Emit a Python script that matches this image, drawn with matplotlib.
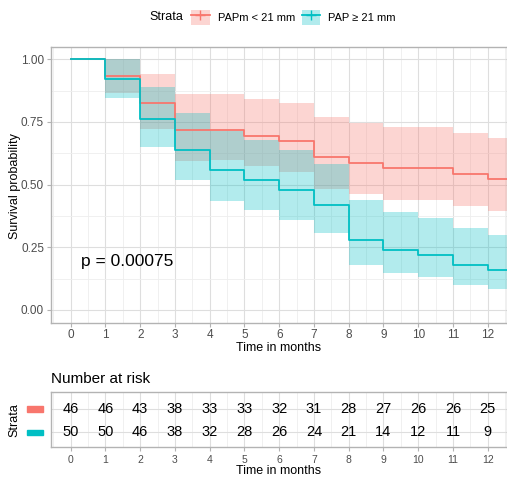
import matplotlib
matplotlib.use('Agg')
from matplotlib import pyplot as plt
from matplotlib.lines import Line2D
from matplotlib.patches import Patch, Rectangle
from matplotlib.ticker import MultipleLocator, FormatStrFormatter
import numpy as np

plt.rcParams['font.family'] = ['Liberation Sans', 'DejaVu Sans']

# data
months = [0, 1, 2, 3, 4, 5, 6, 7, 8, 9, 10, 11, 12]
labels = ['PAPm < 21 mm', 'PAP \u2265 21 mm']
colors = ['#F8766D', '#00BFC4']

surv_low = [1.0, 0.935, 0.826, 0.717, 0.717, 0.696, 0.674, 0.609, 0.587, 0.565, 0.565, 0.543, 0.522]
upper_low = [1.0, 1.0, 0.943, 0.861, 0.861, 0.842, 0.824, 0.768, 0.747, 0.729, 0.729, 0.707, 0.686]
lower_low = [1.0, 0.864, 0.722, 0.596, 0.597, 0.574, 0.551, 0.483, 0.461, 0.439, 0.440, 0.415, 0.395]

surv_high = [1.0, 0.92, 0.76, 0.64, 0.56, 0.52, 0.48, 0.42, 0.28, 0.24, 0.22, 0.18, 0.16]
upper_high = [1.0, 1.0, 0.888, 0.786, 0.716, 0.678, 0.638, 0.582, 0.437, 0.392, 0.368, 0.327, 0.300]
lower_high = [1.0, 0.847, 0.651, 0.520, 0.436, 0.399, 0.359, 0.306, 0.179, 0.149, 0.130, 0.098, 0.085]

risk_low = [46, 46, 43, 38, 33, 33, 32, 31, 28, 27, 26, 26, 25]
risk_high = [50, 50, 46, 38, 32, 28, 26, 24, 21, 14, 12, 11, 9]

p_text = 'p = 0.00075'

W, H = 507, 478
grid_major = '#DEDEDE'
grid_minor = '#EEEEEE'
border = '#B3B3B3'
tick_col = '#4D4D4D'

fig = plt.figure(figsize=(W / 100, H / 100), dpi=100)

# ---- survival curves ----
ax = fig.add_axes([51 / W, 1 - 322.5 / H, 456 / W, 275.7 / H])
t = months + [13]
curves = [(surv_low, upper_low, lower_low), (surv_high, upper_high, lower_high)]
for (s, up, lo), c in zip(curves, colors):
    ax.fill_between(t, lo + lo[-1:], up + up[-1:], step='post',
                    color=c, alpha=0.3, linewidth=0, zorder=2)
    ax.step(t, s + s[-1:], where='post', color=c, lw=1.3, zorder=3)

ax.set_xlim(-0.567, 12.555)
ax.set_ylim(-0.05, 1.05)
ax.xaxis.set_major_locator(MultipleLocator(1))
ax.xaxis.set_minor_locator(MultipleLocator(0.5))
ax.yaxis.set_major_locator(MultipleLocator(0.25))
ax.yaxis.set_minor_locator(MultipleLocator(0.125))
ax.yaxis.set_major_formatter(FormatStrFormatter('%.2f'))
ax.grid(which='major', color=grid_major, lw=0.8, zorder=0)
ax.grid(which='minor', color=grid_minor, lw=0.6, zorder=0)
ax.set_axisbelow(True)
ax.tick_params(which='major', length=3, color=border, labelcolor=tick_col,
               labelsize=8.5, pad=2)
ax.tick_params(which='minor', length=0)
for sp in ax.spines.values():
    sp.set_color(border)
    sp.set_linewidth(1.0)
ax.set_xlabel('Time in months', fontsize=9)
ax.xaxis.set_label_coords(0.5, -0.072)
fig.text(15 / W, 1 - 186 / H, 'Survival probability', rotation=90,
         ha='center', va='center', fontsize=9)
ax.text(0.3, 0.193, p_text, ha='left', va='center', fontsize=12.5)

# ---- legend ----
handles = [(Patch(facecolor=c, alpha=0.3, linewidth=0),
            Line2D([], [], color=c, lw=1.3, marker='+', markersize=7))
           for c in colors]
fig.legend(handles, labels, loc='center left',
           bbox_to_anchor=(191 / W, 1 - 17 / H), ncol=2, frameon=False,
           fontsize=8, handlelength=1.7, handleheight=1.7, handletextpad=0.7,
           columnspacing=0.6, borderpad=0, borderaxespad=0)
fig.text(183 / W, 1 - 17 / H, 'Strata', ha='right', va='center', fontsize=9)

# ---- number at risk table ----
axt = fig.add_axes([51 / W, 1 - 446.7 / H, 456 / W, 54.4 / H])
rows = [2, 1]
for risk, row, c in zip([risk_low, risk_high], rows, colors):
    for m, n in zip(months, risk):
        axt.text(m, row, str(n), ha='center', va='center', fontsize=10.5)
    axt.add_patch(Rectangle((-0.0526, row - 0.115), 0.035, 0.23, color=c,
                            transform=axt.get_yaxis_transform(),
                            clip_on=False))
axt.set_xlim(-0.567, 12.555)
axt.set_ylim(0.38, 2.717)
axt.xaxis.set_major_locator(MultipleLocator(1))
axt.xaxis.set_minor_locator(MultipleLocator(0.5))
axt.set_yticks(rows)
axt.set_yticklabels([])
axt.grid(which='major', color=grid_major, lw=0.8, zorder=0)
axt.grid(which='minor', axis='x', color=grid_minor, lw=0.6, zorder=0)
axt.set_axisbelow(True)
axt.tick_params(axis='x', which='major', length=3, color=border,
                labelcolor=tick_col, labelsize=7.5, pad=3)
axt.tick_params(axis='y', length=0)
axt.tick_params(which='minor', length=0)
for sp in axt.spines.values():
    sp.set_color(border)
    sp.set_linewidth(1.0)
axt.set_title('Number at risk', loc='left', fontsize=11, pad=7)
axt.set_xlabel('Time in months', fontsize=9)
axt.xaxis.set_label_coords(0.5, -0.34)
fig.text(14 / W, 1 - 420 / H, 'Strata', rotation=90, ha='center',
         va='center', fontsize=9)

fig.savefig('out.png', dpi=100)
